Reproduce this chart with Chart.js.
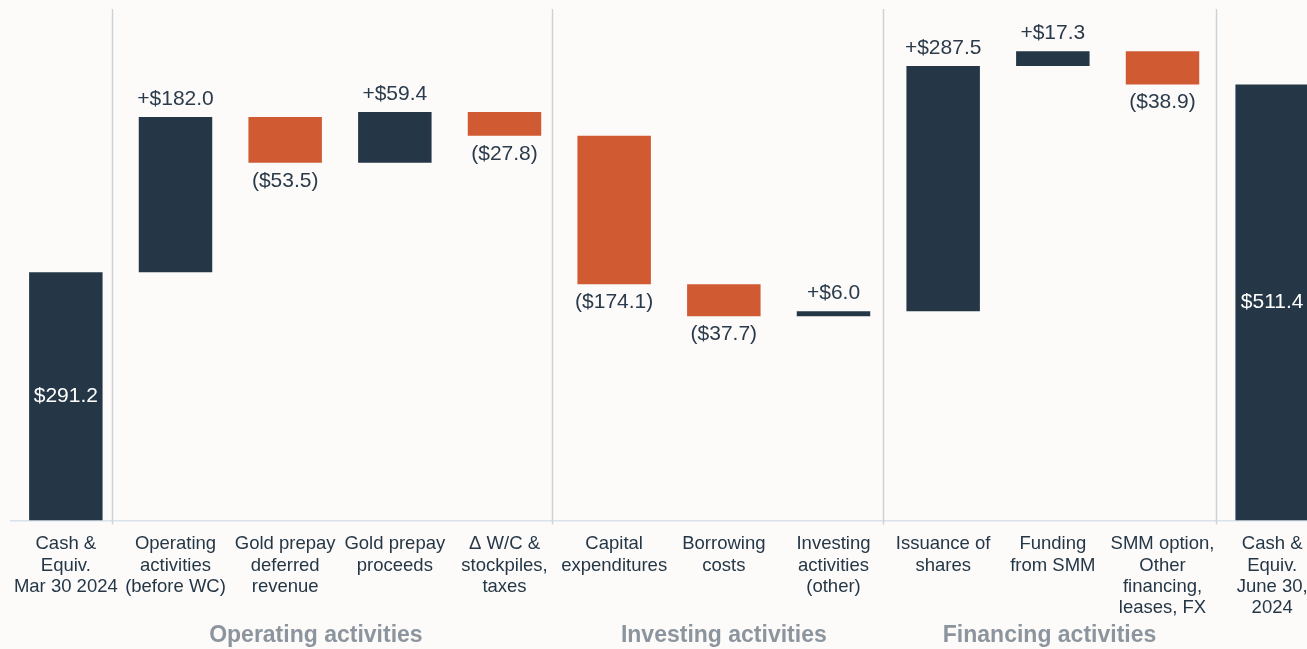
<!DOCTYPE html>
<html>
<head>
<meta charset="utf-8">
<script src="https://cdn.jsdelivr.net/npm/chart.js@4"></script>
<style>
  html, body { margin: 0; padding: 0; background: #fcfbfa; overflow: hidden; }
  #wrap { width: 1330px; height: 649px; }
</style>
</head>
<body>
<div id="wrap"><canvas id="waterfallChart"></canvas></div>
<script>
const categories = [
    ['Cash &', 'Equiv.', 'Mar 30 2024'],
    ['Operating', 'activities', '(before WC)'],
    ['Gold prepay', 'deferred', 'revenue'],
    ['Gold prepay', 'proceeds'],
    ['\u0394 W/C &', 'stockpiles,', 'taxes'],
    ['Capital', 'expenditures'],
    ['Borrowing', 'costs'],
    ['Investing', 'activities', '(other)'],
    ['Issuance of', 'shares'],
    ['Funding', 'from SMM'],
    ['SMM option,', 'Other', 'financing,', 'leases, FX'],
    ['Cash &', 'Equiv.', 'June 30,', '2024']
]
const changes = [291.2, 182.0, -53.5, 59.4, -27.8, -174.1, -37.7, 6.0, 287.5, 17.3, -38.9, 511.4]
const isTotal = [true, false, false, false, false, false, false, false, false, false, false, true]
const groupNames = ['Operating activities', 'Investing activities', 'Financing activities']

const navy = '#253746'
const orange = '#d05a32'

// build floating bars
var ranges = []
var colors = []
var running = 0
for (i = 0; i < changes.length; i++) {
    if (isTotal[i]) {
        ranges[i] = [0, changes[i]]
        running = changes[i]
        colors[i] = navy
    } else {
        ranges[i] = [running, running + changes[i]]
        running = running + changes[i]
        colors[i] = changes[i] < 0 ? orange : navy
    }
}

function fmt(i) {
    var v = Math.abs(changes[i]).toFixed(1)
    if (isTotal[i]) return '$' + v
    return changes[i] < 0 ? '($' + v + ')' : '+$' + v
}

const decorations = {
    id: 'decorations',
    beforeDatasetsDraw(chart) {
        const ctx = chart.ctx
        const x = chart.scales.x
        const area = chart.chartArea
        ctx.save()
        ctx.strokeStyle = '#cdd2d8'
        ctx.lineWidth = 1.5
        // section dividers, between the groups
        ;[0.42, 4.43, 7.455, 10.485].forEach(function(pos) {
            var px = Math.round(x.getPixelForValue(pos)) + 0.5
            ctx.beginPath()
            ctx.moveTo(px, area.top)
            ctx.lineTo(px, area.bottom + 4)
            ctx.stroke()
        })
        ctx.restore()
    },
    afterDatasetsDraw(chart) {
        const ctx = chart.ctx
        const meta = chart.getDatasetMeta(0)
        ctx.save()
        ctx.font = '21px "Liberation Sans", Arial, sans-serif'
        ctx.textAlign = 'center'
        ctx.textBaseline = 'middle'
        meta.data.forEach(function(bar, i) {
            var top = Math.min(bar.y, bar.base)
            var bottom = Math.max(bar.y, bar.base)
            if (isTotal[i]) {
                ctx.fillStyle = '#ffffff'
                ctx.fillText(fmt(i), bar.x, (top + bottom) / 2)
            } else if (changes[i] < 0) {
                ctx.fillStyle = '#2b3b4b'
                ctx.fillText(fmt(i), bar.x, bottom + 18)
            } else {
                ctx.fillStyle = '#2b3b4b'
                ctx.fillText(fmt(i), bar.x, top - 18)
            }
        })

        // group titles under the category labels
        const x = chart.scales.x
        const groupCenters = [2.28, 6, 8.97]
        ctx.font = 'bold 23px "Liberation Sans", Arial, sans-serif'
        ctx.fillStyle = '#8c959e'
        groupNames.forEach(function(name, g) {
            ctx.fillText(name, x.getPixelForValue(groupCenters[g]), 636)
        })
        ctx.restore()
    }
}

var ctx = document.getElementById('waterfallChart')
new Chart(ctx, {
    type: 'bar',
    data: {
        labels: categories,
        datasets: [
            {
                data: ranges,
                backgroundColor: colors,
                borderWidth: 0,
                barPercentage: 0.67,
                categoryPercentage: 1.0
            }
        ]
    },
    options: {
        responsive: true,
        maintainAspectRatio: false,
        animation: false,
        layout: {
            padding: { left: 11, right: 3, top: 9, bottom: 0 }
        },
        scales: {
            x: {
                grid: { display: false, drawTicks: false },
                border: { display: true, color: '#d9e1ea', width: 1.5 },
                ticks: {
                    color: '#253746',
                    padding: 13,
                    autoSkip: false,
                    maxRotation: 0,
                    font: { family: '"Liberation Sans", Arial, sans-serif', size: 18.5, lineHeight: 1.15 }
                },
                afterFit(scale) {
                    scale.height = 128.5
                }
            },
            y: {
                display: false,
                min: 0,
                max: 600
            }
        },
        plugins: {
            legend: { display: false },
            tooltip: { enabled: false }
        }
    },
    plugins: [decorations]
})
</script>
</body>
</html>
